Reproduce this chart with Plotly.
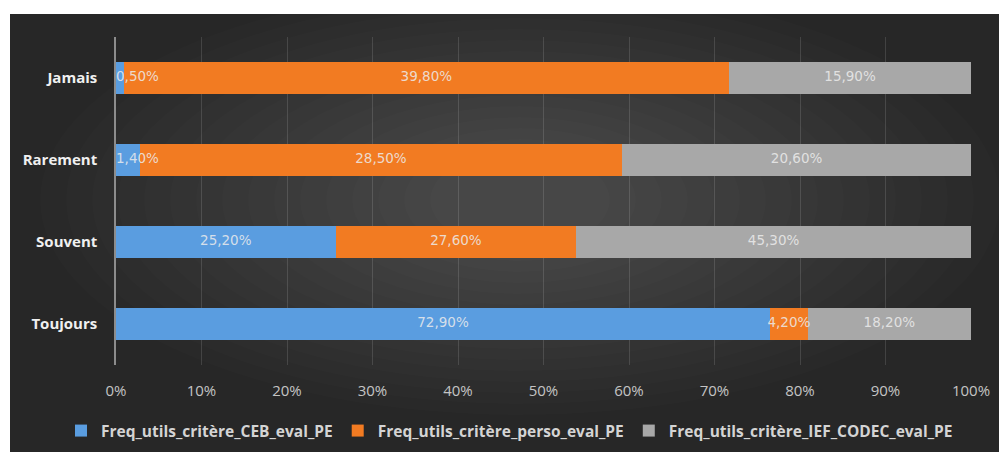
import numpy as np
import plotly.graph_objects as go

categories = ["Jamais", "Rarement", "Souvent", "Toujours"]
series_names = [
    "Freq_utils_critère_CEB_eval_PE",
    "Freq_utils_critère_perso_eval_PE",
    "Freq_utils_critère_IEF_CODEC_eval_PE",
]
ceb = [0.5, 1.4, 25.2, 72.9]
perso = [39.8, 28.5, 27.6, 4.2]
ief = [15.9, 20.6, 45.3, 18.2]
x_ticks = [0, 10, 20, 30, 40, 50, 60, 70, 80, 90, 100]
x_tick_labels = [f"{t}%" for t in x_ticks]

colors = ["#5a9de0", "#f27b22", "#a8a8a8"]
FONT = "Open Sans"
VFONT = "DejaVu Sans"

W, H = 999, 452
ML, MR, MT, MB = 116, 28, 37, 87
PW, PH = W - ML - MR, H - MT - MB

raw = np.array([ceb, perso, ief], dtype=float)
totals = raw.sum(axis=0)
shares = raw / totals * 100.0
starts = np.vstack([np.zeros(len(categories)), np.cumsum(shares, axis=0)[:-1]])

fig = go.Figure()
for i, name in enumerate(series_names):
    fig.add_trace(go.Bar(
        y=categories, x=shares[i], base=starts[i], orientation="h",
        name=name, marker=dict(color=colors[i], line=dict(width=0)),
        hoverinfo="skip",
    ))

# data labels: centred in each segment, pushed right if they would cross the axis start
half_label = 27 / PW * 100  # half of an estimated label width, in axis units
lab_x, lab_y, lab_t, lab_pos = [], [], [], []
for i in range(len(series_names)):
    for j, cat in enumerate(categories):
        txt = f"{raw[i, j]:.2f}".replace(".", ",") + "%"
        centre = starts[i, j] + shares[i, j] / 2
        if centre - half_label < 0:
            lab_x.append(starts[i, j])
            lab_pos.append("middle right")
        else:
            lab_x.append(centre)
            lab_pos.append("middle center")
        lab_y.append(cat)
        lab_t.append(txt)
fig.add_trace(go.Scatter(
    x=lab_x, y=lab_y, text=lab_t, mode="text", textposition=lab_pos,
    textfont=dict(family=VFONT, size=13.5, color="rgba(236,236,236,0.85)"),
    showlegend=False, hoverinfo="skip", cliponaxis=False,
))

def px_x(px):
    return px / W

def px_y(py):
    return 1 - py / H

shapes = [dict(type="rect", xref="paper", yref="paper",
               x0=px_x(10), x1=px_x(999), y0=px_y(452), y1=px_y(14),
               fillcolor="#272727", line=dict(width=0), layer="below")]
# soft radial glow
n = 16
for k in range(n):
    rx = 480 - k * 26
    ry = 215 - k * 11
    cx, cy = 520, 200
    shapes.append(dict(type="circle", xref="paper", yref="paper",
                       x0=px_x(cx - rx), x1=px_x(cx + rx),
                       y0=px_y(cy + ry), y1=px_y(cy - ry),
                       fillcolor="rgba(255,255,255,0.011)", line=dict(width=0),
                       layer="below"))

fig.update_layout(
    width=W, height=H,
    margin=dict(l=0, r=0, t=0, b=0, autoexpand=False),
    paper_bgcolor="white", plot_bgcolor="rgba(0,0,0,0)",
    barmode="stack", bargap=0.6,
    shapes=shapes,
    font=dict(family=FONT),
    xaxis=dict(domain=[ML / W, (W - MR) / W],
               range=[0, 100], tickvals=x_ticks, ticktext=x_tick_labels,
               showgrid=True, gridcolor="rgba(255,255,255,0.13)", gridwidth=1,
               zeroline=False, showline=False,
               ticks="outside", ticklen=12, tickcolor="rgba(0,0,0,0)",
               tickfont=dict(family=FONT, size=15, color="#c4c4c4"),
               fixedrange=True),
    yaxis=dict(domain=[MB / H, (H - MT) / H],
               categoryorder="array", categoryarray=categories[::-1],
               showgrid=False, zeroline=False,
               showline=True, linecolor="#8c8c8c", linewidth=1.5,
               ticks="outside", ticklen=14, tickcolor="rgba(0,0,0,0)",
               tickfont=dict(family=FONT, size=15, color="#f0f0f0", weight="bold"),
               fixedrange=True),
    legend=dict(orientation="h", x=0.51, xanchor="center",
                y=px_y(431), yanchor="middle",
                bgcolor="rgba(0,0,0,0)",
                font=dict(family=FONT, size=15.5, color="#d4d4d4", weight="bold"),
                itemwidth=30, traceorder="normal"),
    showlegend=True,
)

fig.write_html(
    "out.html",
    config={"displayModeBar": False},
    post_script="document.body.style.margin='0';document.body.style.overflow='hidden';",
)
